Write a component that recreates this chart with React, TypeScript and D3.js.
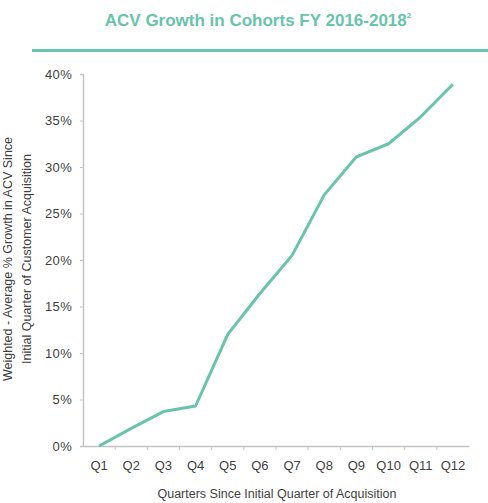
import { useEffect, useRef } from 'react'
import * as d3 from 'd3'

const quarters = ['Q1', 'Q2', 'Q3', 'Q4', 'Q5', 'Q6', 'Q7', 'Q8', 'Q9', 'Q10', 'Q11', 'Q12']
const growth = [0, 0.019, 0.037, 0.043, 0.12, 0.164, 0.205, 0.27, 0.311, 0.325, 0.354, 0.389]
const yTicks = [0, 0.05, 0.1, 0.15, 0.2, 0.25, 0.3, 0.35, 0.4]

const TEAL = '#68c4ab'
const AXIS = '#c4c4c4'
const LABEL = '#3f3f3f'
const FONT = '"Liberation Sans", Arial, sans-serif'

export default function App() {
  const chartRef = useRef<SVGSVGElement | null>(null)

  useEffect(() => {
    if (!chartRef.current) return
    const width = 488
    const height = 503
    const margin = { top: 74, right: 19, bottom: 57, left: 83 }

    const svg = d3.select(chartRef.current)
    svg.selectAll('*').remove()

    // title + rule under it
    const title = svg
      .append('text')
      .attr('x', 258)
      .attr('y', 26)
      .attr('text-anchor', 'middle')
      .style('font-family', FONT)
      .style('font-weight', 'bold')
      .style('font-size', '17px')
      .attr('fill', TEAL)
    title.append('tspan').text('ACV Growth in Cohorts FY 2016-2018')
    title.append('tspan').attr('dy', -8).style('font-size', '8px').text('2')

    svg
      .append('line')
      .attr('x1', 32)
      .attr('x2', width)
      .attr('y1', 50.5)
      .attr('y2', 50.5)
      .attr('stroke', TEAL)
      .attr('stroke-width', 3)

    const x = d3
      .scaleBand()
      .domain(quarters)
      .range([margin.left, width - margin.right])

    const y = d3
      .scaleLinear()
      .domain([0, 0.4])
      .range([height - margin.bottom, margin.top])

    const xAxis = svg
      .append('g')
      .attr('transform', `translate(0,${height - margin.bottom})`)
      .call(d3.axisBottom(x).tickSize(0).tickPadding(15))
    xAxis.select('.domain').attr('stroke', AXIS).attr('stroke-width', 1.5)
    xAxis
      .selectAll('text')
      .style('font-family', FONT)
      .style('font-size', '13px')
      .attr('fill', LABEL)

    // tick marks sit on the band edges
    svg
      .append('g')
      .selectAll('line')
      .data(quarters.slice(1))
      .join('line')
      .attr('x1', (d) => x(d) as number)
      .attr('x2', (d) => x(d) as number)
      .attr('y1', height - margin.bottom)
      .attr('y2', height - margin.bottom + 4)
      .attr('stroke', AXIS)

    const yAxis = svg
      .append('g')
      .attr('transform', `translate(${margin.left},0)`)
      .call(
        d3
          .axisLeft(y)
          .tickValues(yTicks)
          .tickSize(3)
          .tickPadding(8)
          .tickFormat((d) => `${Math.round((d as number) * 100)}%`)
      )
    yAxis.select('.domain').attr('stroke', AXIS).attr('stroke-width', 1.5)
    yAxis.selectAll('.tick line').attr('stroke', AXIS)
    yAxis
      .selectAll('text')
      .style('font-family', FONT)
      .style('font-size', '13px')
      .style('letter-spacing', '0.3px')
      .attr('fill', LABEL)

    const line = d3
      .line<number>()
      .x((_, i) => (x(quarters[i]) as number) + x.bandwidth() / 2)
      .y((d) => y(d))

    svg
      .append('path')
      .datum(growth)
      .attr('fill', 'none')
      .attr('stroke', TEAL)
      .attr('stroke-width', 3)
      .attr('stroke-linejoin', 'round')
      .attr('d', line)

    svg
      .append('text')
      .attr('x', 277)
      .attr('y', 498)
      .attr('text-anchor', 'middle')
      .style('font-family', FONT)
      .style('font-size', '12.5px')
      .attr('fill', LABEL)
      .text('Quarters Since Initial Quarter of Acquisition')

    const yTitle = svg
      .append('text')
      .attr('transform', 'translate(0,259) rotate(-90)')
      .attr('text-anchor', 'middle')
      .style('font-family', FONT)
      .style('font-size', '12.5px')
      .attr('fill', LABEL)
    yTitle.append('tspan').attr('x', 0).attr('y', 12).text('Weighted - Average % Growth in ACV Since')
    yTitle.append('tspan').attr('x', 0).attr('y', 31).text('Initial Quarter of Customer Acquisition')
  }, [])

  return <svg ref={chartRef} width={488} height={503} style={{ position: 'absolute', left: 0, top: 0 }} />
}
